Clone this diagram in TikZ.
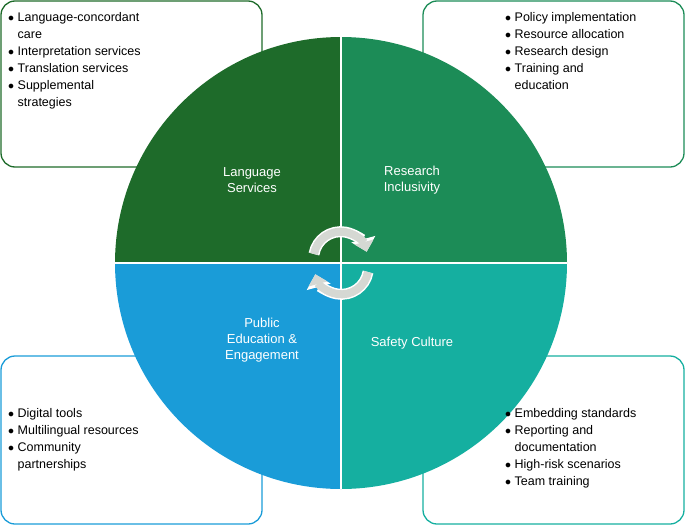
\documentclass[tikz,border=0pt]{standalone}
\usepackage{fontspec}
\setmainfont{Liberation Sans}
\usetikzlibrary{arrows.meta}
\definecolor{cA}{HTML}{1E6B2A}
\definecolor{cB}{HTML}{1C8C57}
\definecolor{cC}{HTML}{1A9CD8}
\definecolor{cD}{HTML}{15AFA0}
\definecolor{arr}{HTML}{D5D8D3}
\begin{document}
\begin{tikzpicture}[x=1pt,y=-1pt,
  box/.style={line width=1.3pt,rounded corners=14pt},
  lbl/.style={text=white,font=\fontsize{13}{16}\selectfont,align=center},
  lst/.style={anchor=north west,font=\fontsize{12.5}{17}\selectfont,align=left,inner sep=0pt}]
\useasboundingbox (0,0) rectangle (685,525);
\draw[box,cA] (1,1) rectangle (262,167);
\draw[box,cB] (423,1) rectangle (684,167);
\draw[box,cC] (1,356) rectangle (262,524);
\draw[box,cD] (423,356) rectangle (684,524);
\coordinate (o) at (341,263);
\fill[cA] (o) -- (115,263) arc[start angle=180,end angle=270,radius=226] -- cycle;
\fill[cB] (o) -- (341,37) arc[start angle=270,end angle=360,radius=226] -- cycle;
\fill[cC] (o) -- (115,263) arc[start angle=180,end angle=90,radius=226] -- cycle;
\fill[cD] (o) -- (567,263) arc[start angle=0,end angle=90,radius=226] -- cycle;
\draw[white,line width=1.5pt] (115,263) -- (567,263) (341,37) -- (341,489);
% arrows
\draw[white,line width=11pt,-{Triangle[width=24pt,length=13pt]}] (314,254) arc[start angle=-170,end angle=-15,radius=27];
\draw[arr,line width=8pt,-{Triangle[width=19pt,length=10pt]}] (314,254) arc[start angle=-170,end angle=-15,radius=27];
\draw[white,line width=11pt,-{Triangle[width=24pt,length=13pt]}] (368,272) arc[start angle=10,end angle=165,radius=27];
\draw[arr,line width=8pt,-{Triangle[width=19pt,length=10pt]}] (368,272) arc[start angle=10,end angle=165,radius=27];
\node[lbl] (ls) at (252,180) {Language\\Services};
\node[lbl] (ri) at (412,180) {Research\\Inclusivity};
\node[lbl] (pe) at (262,340) {Public\\Education \&\\Engagement};
\node[lbl] (sc) at (412,343) {Safety Culture};
\node[lst] (t1) at (8,12) {$\bullet$ Language-concordant\\\phantom{$\bullet$ }care\\$\bullet$ Interpretation services\\$\bullet$ Translation services\\$\bullet$ Supplemental\\\phantom{$\bullet$ }strategies};
\node[lst] (t2) at (505,12) {$\bullet$ Policy implementation\\$\bullet$ Resource allocation\\$\bullet$ Research design\\$\bullet$ Training and\\\phantom{$\bullet$ }education};
\node[lst] (t3) at (8,408) {$\bullet$ Digital tools\\$\bullet$ Multilingual resources\\$\bullet$ Community\\\phantom{$\bullet$ }partnerships};
\node[lst] (t4) at (505,408) {$\bullet$ Embedding standards\\$\bullet$ Reporting and\\\phantom{$\bullet$ }documentation\\$\bullet$ High-risk scenarios\\$\bullet$ Team training};
\end{tikzpicture}
\end{document}
